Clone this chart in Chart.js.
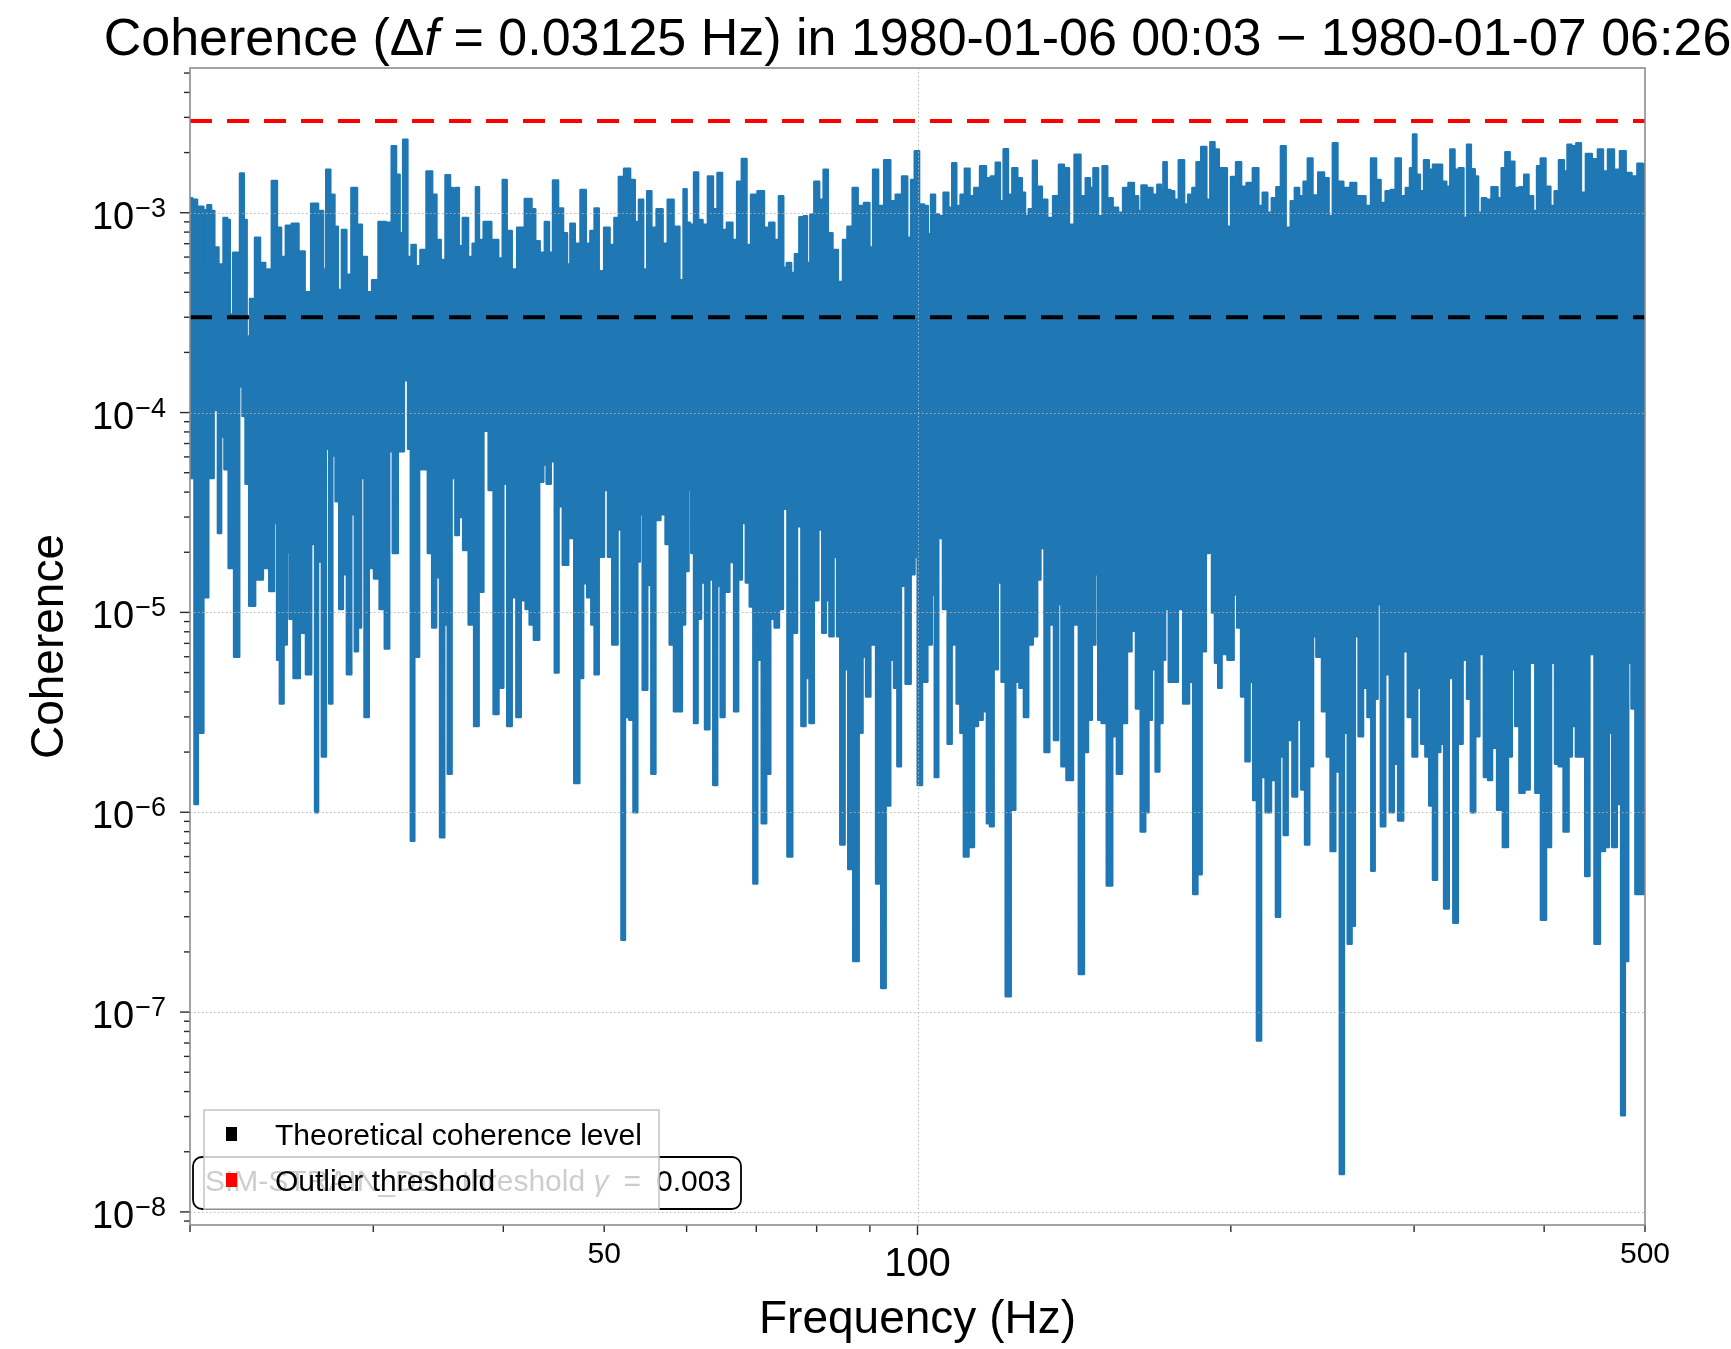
<!DOCTYPE html>
<html lang="en">
<head>
<meta charset="UTF-8">
<title>Coherence</title>
<script src="https://cdn.jsdelivr.net/npm/chart.js"></script>
<style>
  html, body { margin: 0; padding: 0; background: #fff; }
  canvas { display: block; }
</style>
</head>
<body>
<canvas id="coh" width="1731" height="1349"></canvas>
<script>
// upper edge of the coherence trace (per-column maxima)
const upperFreqA = [
  20.0, 20.2, 20.43, 20.58, 20.62, 20.69, 20.88, 21.03, 21.18, 21.42,
  21.66, 21.77, 21.91, 22.1, 22.23, 22.45, 22.6, 22.74, 22.94, 23.25,
  23.45, 23.79, 24.15, 24.33, 24.6, 24.85, 25.25, 25.6, 25.95, 26.35,
  26.75, 26.94, 27.13, 27.43, 27.63, 27.84, 28.14, 28.39, 28.78, 29.1,
  29.4, 29.75, 30.1, 30.6, 31.1, 31.4, 31.7, 31.9, 32.2, 32.5,
  32.8, 33.1, 33.5, 34.0, 34.35, 34.65, 35.0, 35.4, 35.7, 35.85,
  36.1, 36.4, 36.75, 37.25, 37.5, 37.8, 38.0, 38.6, 39.3, 39.8,
  40.1, 40.5, 41.0, 41.5, 42.4, 42.75, 43.1, 43.6, 44.1, 44.4,
  44.9, 45.4, 45.9, 46.2, 46.6, 47.1, 47.8, 48.2, 48.8, 49.1,
  49.7, 50.3, 50.9, 51.4, 51.9, 52.6, 53.3, 53.7, 54.3, 54.7,
  55.3, 55.7, 56.6, 57.2, 57.9, 58.7
];
const upperCohA = [
  1.18e-3, 1.16e-3, 1.07e-3, 1.07e-3, 5.3e-4, 1.03e-3, 1.09e-3, 1.02e-3, 6.7e-4, 5.5e-4,
  9.4e-4, 9.2e-4, 3.1e-4, 6.3e-4, 6.3e-4, 1.57e-3, 9.2e-4, 2.4e-4, 3.7e-4, 7.5e-4,
  5.6e-4, 5.2e-4, 1.44e-3, 8.4e-4, 6.0e-4, 8.6e-4, 8.8e-4, 6.4e-4, 4.0e-4, 1.11e-3,
  1.02e-3, 5.2e-4, 1.64e-3, 1.23e-3, 8.5e-4, 4.1e-4, 8.2e-4, 4.9e-4, 1.33e-3, 8.7e-4,
  6.0e-4, 4.0e-4, 4.6e-4, 9.0e-4, 8.9e-4, 2.15e-3, 1.55e-3, 7.9e-4, 2.32e-3, 6.0e-4,
  6.9e-4, 5.4e-4, 6.5e-4, 1.61e-3, 1.23e-3, 7.3e-4, 5.8e-4, 1.54e-3, 1.33e-3, 5.8e-4,
  1.33e-3, 6.8e-4, 9.4e-4, 6.0e-4, 7.0e-4, 1.34e-3, 7.3e-4, 9.0e-4, 7.3e-4, 5.9e-4,
  1.46e-3, 8.1e-4, 5.2e-4, 8.4e-4, 1.17e-3, 1.04e-3, 7.2e-4, 6.3e-4, 9.0e-4, 6.3e-4,
  1.45e-3, 1.05e-3, 7.9e-4, 5.5e-4, 8.8e-4, 7.0e-4, 1.30e-3, 7.0e-4, 8.1e-4, 1.05e-3,
  5.1e-4, 8.4e-4, 6.9e-4, 9.4e-4, 1.51e-3, 1.66e-3, 1.46e-3, 9.0e-4, 1.16e-3, 5.2e-4,
  1.28e-3, 8.4e-4, 1.04e-3, 7.0e-4, 1.16e-3, 8.5e-4
];
const upperFreqB = [
  59.4, 59.8, 60.2, 60.7, 61.3, 61.8, 62.5, 63.3, 63.9, 64.6,
  65.2, 66.0, 66.8, 67.4, 68.2, 68.8, 69.6, 70.8, 71.6, 72.5,
  73.2, 74.0, 74.6, 75.2, 76.0, 76.5, 77.5, 78.0, 78.6, 79.2,
  80.0, 80.9, 81.6, 82.4, 83.3, 84.4, 85.2, 86.1, 87.2, 88.0,
  89.7, 90.1, 91.2, 92.1, 93.7, 94.6, 96.0, 97.3, 98.2, 99.0,
  99.8, 100.9, 102.0, 102.6, 103.5, 104.4, 105.4, 106.5, 107.6, 108.4,
  109.5, 110.5, 111.6, 112.8, 114.0, 115.7, 117.0, 118.2, 119.6, 120.4,
  121.6, 122.7, 124.0, 125.4, 126.5, 127.2, 128.6, 129.6, 130.8, 132.5,
  134.0, 136.0, 137.5, 139.0, 140.6, 142.5, 144.3, 145.9, 146.9, 148.3,
  149.9, 151.3, 153.0, 155.0, 156.7, 158.5, 160.5, 162.3, 163.5, 164.8,
  167.2, 169.1
];
const upperCohB = [
  4.6e-4, 1.31e-3, 8.9e-4, 8.7e-4, 1.59e-3, 9.2e-4, 8.7e-4, 1.52e-3, 1.04e-3, 1.58e-3,
  8.2e-4, 8.9e-4, 7.3e-4, 1.43e-3, 1.86e-3, 6.9e-4, 1.23e-3, 1.28e-3, 8.4e-4, 8.9e-4,
  7.3e-4, 1.21e-3, 5.3e-4, 5.6e-4, 5.0e-4, 6.2e-4, 9.5e-4, 9.6e-4, 5.6e-4, 9.8e-4,
  1.43e-3, 1.16e-3, 1.64e-3, 7.9e-4, 6.5e-4, 4.5e-4, 7.3e-4, 8.5e-4, 1.33e-3, 1.08e-3,
  1.12e-3, 6.7e-4, 1.64e-3, 1.08e-3, 1.83e-3, 1.14e-3, 1.23e-3, 1.52e-3, 7.5e-4, 1.46e-3,
  2.03e-3, 1.10e-3, 1.08e-3, 7.8e-4, 1.23e-3, 9.8e-4, 9.6e-4, 1.26e-3, 1.06e-3, 1.77e-3,
  1.08e-3, 1.23e-3, 1.66e-3, 1.21e-3, 1.33e-3, 1.71e-3, 1.49e-3, 1.52e-3, 1.78e-3, 1.14e-3,
  2.08e-3, 1.23e-3, 1.67e-3, 1.49e-3, 1.26e-3, 9.6e-4, 1.04e-3, 1.82e-3, 1.35e-3, 1.16e-3,
  9.4e-4, 1.21e-3, 1.74e-3, 1.67e-3, 8.7e-4, 1.95e-3, 1.21e-3, 1.49e-3, 1.33e-3, 1.67e-3,
  9.6e-4, 1.71e-3, 1.18e-3, 1.06e-3, 1.0e-3, 1.33e-3, 1.41e-3, 1.21e-3, 1.02e-3, 1.37e-3,
  1.33e-3, 1.23e-3
];
const upperFreqC = [
  170.9, 171.7, 172.9, 174.2, 175.8, 177.1, 179.4, 181.3, 182.7, 184.7,
  186.1, 188.6, 190.3, 192.0, 193.8, 195.7, 197.4, 199.1, 201.1, 203.6,
  205.6, 208.6, 211.4, 213.7, 215.6, 218.0, 220.0, 222.4, 224.5, 227.1,
  229.6, 231.3, 233.9, 236.0, 238.3, 240.9, 244.5, 247.1, 249.5, 251.8,
  254.6, 258.4, 262.8, 265.0, 267.9, 270.9, 274.6, 277.0, 280.1, 283.3,
  286.4, 289.6, 292.9, 296.2, 298.4, 300.2, 302.8, 305.0, 308.4, 311.4,
  314.2, 317.6, 320.7, 323.5, 326.6, 329.5, 333.1, 336.1, 338.5, 341.8,
  344.3, 346.9, 350.3, 353.4, 358.7, 362.8, 365.5, 368.8, 372.4, 376.6,
  380.9, 384.7, 388.1, 392.6, 395.0, 399.1, 403.3, 407.8, 411.1, 415.6,
  420.2, 422.3, 427.3, 431.8, 436.0, 441.5, 447.5, 453.6, 457.6, 463.8,
  469.8, 476.4, 481.7, 488.9, 494.5, 500.0
];
const upperCohC = [
  1.38e-3, 1.30e-3, 1.79e-3, 1.30e-3, 1.28e-3, 1.16e-3, 1.83e-3, 1.10e-3, 1.23e-3, 1.33e-3,
  1.79e-3, 2.13e-3, 1.16e-3, 2.25e-3, 2.07e-3, 1.67e-3, 1.67e-3, 8.5e-4, 1.51e-3, 1.79e-3,
  1.35e-3, 1.41e-3, 1.67e-3, 1.08e-3, 1.26e-3, 1.0e-3, 1.18e-3, 1.34e-3, 2.15e-3, 8.4e-4,
  1.14e-3, 1.33e-3, 1.21e-3, 1.43e-3, 1.87e-3, 1.22e-3, 1.59e-3, 1.49e-3, 9.6e-4, 2.23e-3,
  1.43e-3, 1.33e-3, 1.41e-3, 1.21e-3, 1.21e-3, 1.08e-3, 1.87e-3, 1.46e-3, 1.12e-3, 1.28e-3,
  1.30e-3, 1.87e-3, 1.21e-3, 1.33e-3, 1.67e-3, 2.46e-3, 1.55e-3, 1.28e-3, 1.83e-3, 1.64e-3,
  1.74e-3, 1.74e-3, 1.43e-3, 1.35e-3, 2.07e-3, 1.64e-3, 1.67e-3, 9.4e-4, 2.19e-3, 1.65e-3,
  1.52e-3, 1.0e-3, 1.18e-3, 1.16e-3, 1.34e-3, 1.18e-3, 1.67e-3, 2.01e-3, 1.80e-3, 1.33e-3,
  1.34e-3, 1.55e-3, 1.21e-3, 1.02e-3, 1.71e-3, 1.87e-3, 1.35e-3, 1.08e-3, 1.28e-3, 1.83e-3,
  1.61e-3, 2.19e-3, 2.15e-3, 2.23e-3, 1.26e-3, 1.97e-3, 1.85e-3, 2.07e-3, 1.61e-3, 2.07e-3,
  1.64e-3, 2.03e-3, 1.58e-3, 1.52e-3, 1.76e-3, 1.75e-3
];

// lower edge of the trace (per-column minima)
const lowerFreqA = [
  20.0, 20.1, 20.3, 20.4, 20.5, 20.7, 20.95, 21.2, 21.35, 21.5,
  21.67, 21.9, 22.2, 22.4, 22.53, 22.7, 22.9, 23.3, 23.7, 23.97,
  24.2, 24.3, 24.5, 24.7, 24.85, 25.0, 25.3, 25.7, 26.0, 26.3,
  26.45, 26.65, 26.9, 27.13, 27.3, 27.5, 27.7, 27.95, 28.15, 28.45,
  28.7, 28.9, 29.1, 29.3, 29.55, 29.85, 30.25, 30.6, 30.95, 31.2,
  31.45, 31.9, 32.3, 32.5, 32.7, 33.0, 33.4, 33.55, 33.7, 34.0,
  34.35, 34.6, 34.95, 35.25, 35.5, 35.85, 36.1, 36.4, 36.8, 37.3,
  37.7, 38.05, 38.5, 38.95, 39.35, 39.8, 40.2, 40.5, 41.0, 41.35,
  41.8, 42.25, 42.55, 43.05, 43.55, 43.85, 44.2, 44.65, 45.0, 45.4,
  45.85, 46.5, 47.1, 47.55, 47.9, 48.4, 48.8, 49.1, 49.7, 50.25,
  50.6, 51.2, 51.8, 52.1, 52.6, 53.1, 53.6, 54.0, 54.2, 54.7,
  55.3, 55.7, 56.3, 56.95, 57.6, 58.0, 58.7
];
const lowerCohA = [
  9.0e-5, 4.7e-5, 1.1e-6, 2.5e-6, 2.5e-6, 1.19e-5, 4.7e-5, 1.03e-4, 2.5e-5, 7.6e-5,
  5.2e-5, 1.67e-5, 6.0e-6, 1.35e-4, 9.6e-5, 4.4e-5, 1.08e-5, 1.46e-5, 1.67e-5, 1.28e-5,
  2.8e-5, 5.8e-6, 3.5e-6, 6.9e-6, 2.0e-5, 9.3e-6, 4.7e-6, 7.9e-6, 4.9e-6, 2.2e-5,
  1.0e-6, 1.8e-5, 1.9e-6, 6.6e-5, 3.5e-6, 6.1e-5, 3.6e-5, 1.04e-5, 1.55e-5, 4.9e-6,
  3.1e-5, 6.4e-6, 8.4e-6, 4.7e-5, 3.0e-6, 1.67e-5, 1.48e-5, 1.04e-5, 6.6e-6, 6.4e-5,
  1.98e-5, 6.4e-5, 1.45e-4, 6.6e-5, 7.2e-7, 6.0e-6, 5.2e-5, 7.8e-5, 5.2e-5, 1.98e-5,
  8.4e-6, 1.5e-5, 7.5e-7, 8.7e-6, 1.56e-6, 4.7e-5, 2.44e-5, 3.0e-5, 2.05e-5, 8.7e-6,
  2.7e-6, 1.27e-5, 8.1e-5, 4.1e-5, 3.1e-6, 4.2e-6, 4.4e-5, 2.7e-6, 1.19e-5, 3.0e-6,
  1.15e-5, 1.04e-5, 8.7e-6, 7.3e-6, 4.5e-5, 5.5e-5, 4.4e-5, 5.7e-5, 5.0e-6, 3.4e-5,
  1.73e-5, 2.36e-5, 1.4e-6, 4.7e-6, 1.4e-5, 1.19e-5, 8.7e-6, 4.9e-6, 1.9e-5, 4.1e-5,
  1.9e-5, 6.9e-6, 2.6e-5, 2.3e-7, 3.0e-6, 2.9e-6, 1.0e-6, 1.8e-5, 3.1e-5, 4.1e-6,
  1.37e-5, 1.56e-6, 2.9e-5, 3.1e-5, 2.2e-5, 6.9e-6, 3.2e-6
];
const lowerFreqB = [
  59.15, 59.6, 60.0, 60.5, 60.75, 61.25, 61.7, 62.2, 62.8, 63.4,
  63.9, 64.5, 64.9, 65.6, 66.3, 67.0, 67.5, 68.1, 68.7, 69.3,
  69.8, 70.5, 71.2, 71.9, 72.5, 73.3, 73.9, 74.6, 75.4, 76.2,
  77.0, 77.7, 78.4, 79.1, 79.9, 80.7, 81.3, 82.0, 82.6, 83.5,
  83.9, 84.7, 85.5, 86.1, 87.4, 88.2, 88.9, 89.6, 90.6, 91.9,
  92.7, 93.7, 94.6, 95.3, 96.0, 96.8, 98.0, 99.0, 99.7, 100.4,
  101.6, 102.8, 103.6, 104.2, 105.2, 106.4, 107.4, 108.3, 108.7, 109.4,
  110.5, 111.1, 112.8, 113.8, 114.8, 116.2, 117.0, 117.8, 118.9, 120.0,
  120.9, 122.2, 123.6, 124.7, 125.9, 127.2, 128.3, 129.8, 130.8, 131.7,
  133.2, 134.5, 136.0, 137.0, 138.0, 140.1, 142.0, 143.8, 145.2, 146.4,
  147.7, 148.7, 149.6, 151.0, 153.0, 154.7, 156.2, 158.2, 159.7, 161.4,
  162.9, 164.8, 166.2, 167.2, 168.7, 170.0
];
const lowerCohB = [
  3.2e-6, 8.7e-6, 1.61e-5, 4.1e-5, 1.98e-5, 2.8e-6, 9.3e-6, 1.41e-5, 2.6e-6, 1.46e-5,
  1.37e-6, 1.36e-5, 3.0e-6, 1.27e-5, 1.79e-5, 3.2e-6, 1.46e-5, 2.8e-5, 1.41e-5, 1.07e-5,
  4.4e-7, 5.8e-6, 8.8e-7, 1.56e-6, 9.3e-6, 8.4e-6, 1.04e-5, 3.3e-5, 6.0e-7, 7.9e-6,
  2.7e-5, 2.7e-6, 4.7e-6, 2.8e-6, 1.15e-5, 2.6e-5, 7.9e-6, 1.15e-5, 7.6e-6, 1.9e-5,
  7.6e-6, 6.9e-7, 5.2e-6, 5.2e-7, 1.8e-7, 2.5e-6, 6.0e-6, 3.8e-6, 6.9e-6, 4.4e-7,
  1.32e-7, 1.08e-6, 5.8e-6, 4.2e-6, 1.7e-6, 1.36e-5, 4.4e-6, 1.55e-5, 1.9e-5, 1.37e-6,
  4.5e-6, 6.9e-6, 1.23e-5, 1.5e-6, 2.36e-5, 1.04e-5, 2.2e-6, 6.9e-6, 1.07e-5, 3.5e-6,
  2.5e-6, 6.0e-7, 6.7e-7, 2.7e-6, 2.9e-6, 3.2e-6, 8.8e-7, 8.5e-7, 5.2e-6, 1.41e-5,
  4.5e-6, 1.2e-7, 1.03e-6, 4.5e-6, 4.2e-6, 3.0e-6, 6.9e-6, 7.6e-6, 1.46e-5, 2.1e-5,
  2.0e-6, 8.7e-6, 2.3e-6, 1.1e-5, 1.7e-6, 1.45e-6, 8.7e-6, 1.55e-7, 2.0e-6, 2.9e-6,
  6.9e-6, 1.55e-5, 2.9e-6, 2.8e-6, 4.3e-7, 2.4e-6, 1.56e-6, 2.8e-6, 6.4e-6, 8.1e-6,
  3.3e-6, 8.0e-7, 1.0e-6, 2.9e-6, 5.2e-6, 1.6e-6
];
const lowerFreqC = [
  171.5, 172.4, 173.5, 175.2, 177.1, 178.7, 181.3, 183.4, 184.7, 186.8,
  188.2, 190.3, 191.3, 192.4, 193.8, 195.2, 196.7, 200.4, 202.1, 203.6,
  205.6, 207.6, 209.4, 210.9, 212.9, 214.8, 217.2, 220.0, 222.0, 224.0,
  225.7, 227.9, 230.5, 232.7, 234.8, 236.6, 239.2, 240.6, 242.8, 246.6,
  248.0, 250.8, 253.2, 255.9, 257.8, 260.3, 262.2, 264.1, 266.6, 269.3,
  271.9, 273.9, 276.0, 277.4, 280.1, 282.8, 285.8, 287.9, 291.3, 294.4,
  297.3, 300.6, 303.5, 306.1, 309.1, 311.4, 314.2, 317.0, 318.8, 322.4,
  325.4, 329.0, 331.9, 336.1, 338.5, 341.8, 345.1, 348.1, 352.1, 354.7,
  358.2, 362.8, 367.4, 371.0, 373.8, 376.6, 380.9, 385.2, 389.6, 395.0,
  399.4, 403.9, 408.4, 411.1, 415.0, 420.2, 424.2, 426.4, 431.8, 436.0,
  440.2, 444.1, 450.2, 454.9, 460.4, 462.8, 467.3, 472.2, 476.4, 480.0,
  483.5, 487.1, 491.9, 500.0
];
const lowerCohC = [
  2.8e-6, 5.8e-6, 1.04e-5, 4.5e-6, 4.5e-6, 1.04e-5, 3.5e-6, 4.5e-6, 3.9e-7, 4.9e-7,
  6.4e-6, 1.98e-5, 2.3e-5, 1.0e-5, 5.6e-6, 4.2e-6, 6.2e-6, 5.8e-6, 1.23e-5, 8.4e-6,
  3.8e-6, 1.8e-6, 4.5e-6, 1.15e-6, 7.2e-8, 1.5e-6, 1.0e-6, 1.45e-6, 3.0e-7, 1.9e-6,
  7.7e-7, 2.3e-6, 1.2e-6, 2.9e-6, 1.3e-6, 6.9e-7, 1.7e-6, 7.6e-6, 6.0e-6, 3.2e-6,
  1.9e-6, 6.4e-7, 1.6e-6, 1.55e-8, 2.5e-6, 2.2e-7, 2.7e-7, 7.6e-6, 2.4e-6, 4.2e-6,
  3.0e-6, 5.1e-7, 3.7e-6, 1.1e-5, 8.5e-7, 4.9e-6, 1.0e-6, 1.75e-6, 9.1e-7, 6.4e-6,
  3.0e-6, 1.9e-6, 4.2e-6, 2.2e-6, 1.9e-6, 1.08e-6, 4.6e-7, 2.0e-6, 2.2e-6, 3.3e-7,
  4.7e-6, 2.8e-7, 2.2e-6, 5.8e-6, 3.7e-6, 1.0e-6, 2.4e-6, 6.2e-6, 1.5e-6, 1.45e-6,
  2.1e-6, 1.03e-6, 6.7e-7, 1.9e-6, 5.2e-6, 2.7e-6, 1.25e-6, 1.3e-6, 5.6e-6, 1.25e-6,
  2.9e-7, 6.7e-7, 5.6e-6, 1.75e-6, 1.7e-6, 8.0e-7, 1.9e-6, 2.7e-6, 1.9e-6, 1.9e-6,
  4.8e-7, 6.2e-6, 2.2e-7, 6.4e-7, 6.7e-7, 2.5e-6, 6.7e-7, 1.1e-6, 3.05e-8, 1.8e-7,
  5.6e-6, 3.3e-6, 3.9e-7, 3.9e-7
];

const freqRange = [20, 500];
const cohRange = [8.6e-9, 5.3e-3];
const theoreticalLevel = 3.0e-4;
const outlierThreshold = 2.88e-3;

const xMinorTicks = [20, 30, 40, 50, 60, 70, 80, 90, 200, 300, 400, 500];
const xMajorTicks = [100];
const xTickLabels = [50, 100, 500];
const yTickExponents = [-8, -7, -6, -5, -4, -3];

const legendLabels = ['Theoretical coherence level', 'Outlier threshold'];
const legendColors = ['#000000', '#ff0000'];
const channelNote = 'SIM-STRAIN_DBL threshold ';
const gammaValue = '0.003';

const BLUE = '#1f77b4';
const FONT = '"Liberation Sans", Arial, Helvetica, sans-serif';
const font = (size, style) => (style ? style + ' ' : '') + size + 'px ' + FONT;

const toPoints = (fs, vs) => fs.map((f, i) => ({ x: f, y: vs[i] }));
const upperPts = toPoints(upperFreqA.concat(upperFreqB, upperFreqC), upperCohA.concat(upperCohB, upperCohC));
const lowerPts = toPoints(lowerFreqA.concat(lowerFreqB, lowerFreqC), lowerCohA.concat(lowerCohB, lowerCohC));

function roundRect(ctx, x, y, w, h, r) {
  ctx.beginPath();
  ctx.moveTo(x + r, y);
  ctx.lineTo(x + w - r, y);
  ctx.arcTo(x + w, y, x + w, y + r, r);
  ctx.lineTo(x + w, y + h - r);
  ctx.arcTo(x + w, y + h, x + w - r, y + h, r);
  ctx.lineTo(x + r, y + h);
  ctx.arcTo(x, y + h, x, y + h - r, r);
  ctx.lineTo(x, y + r);
  ctx.arcTo(x, y, x + r, y, r);
  ctx.closePath();
}

const decor = {
  id: 'decor',
  afterDatasetsDraw(chart) {
    const { ctx, chartArea: a, scales: { x, y } } = chart;
    ctx.save();
    ctx.strokeStyle = 'rgba(180,180,180,0.95)';
    ctx.lineWidth = 1;
    ctx.setLineDash([1.5, 2.5]);
    yTickExponents.forEach(e => {
      const py = Math.round(y.getPixelForValue(Math.pow(10, e))) + 0.5;
      ctx.beginPath(); ctx.moveTo(a.left, py); ctx.lineTo(a.right, py); ctx.stroke();
    });
    xMajorTicks.forEach(f => {
      const px = Math.round(x.getPixelForValue(f)) + 0.5;
      ctx.beginPath(); ctx.moveTo(px, a.top); ctx.lineTo(px, a.bottom); ctx.stroke();
    });
    ctx.restore();
  },
  afterDraw(chart) {
    const { ctx, chartArea: a, scales: { x, y } } = chart;
    const line = (x0, y0, x1, y1) => { ctx.beginPath(); ctx.moveTo(x0, y0); ctx.lineTo(x1, y1); ctx.stroke(); };
    ctx.save();

    // tick marks
    ctx.strokeStyle = '#2a2a2a';
    ctx.lineWidth = 1.4;
    for (let e = -9; e <= -2; e++) {
      for (let m = 1; m < 10; m++) {
        const v = m * Math.pow(10, e);
        if (v < cohRange[0] || v > cohRange[1]) continue;
        const py = y.getPixelForValue(v);
        line(a.left - (m === 1 ? 10 : 6), py, a.left, py);
      }
    }
    xMinorTicks.forEach(f => { const px = x.getPixelForValue(f); line(px, a.bottom, px, a.bottom + 7); });
    xMajorTicks.forEach(f => { const px = x.getPixelForValue(f); line(px, a.bottom, px, a.bottom + 10); });

    // frame
    ctx.strokeStyle = '#8c8c8c';
    ctx.lineWidth = 1.6;
    ctx.strokeRect(a.left, a.top, a.right - a.left, a.bottom - a.top);

    // y tick labels 10^-n
    ctx.fillStyle = '#000';
    ctx.textBaseline = 'alphabetic';
    ctx.textAlign = 'right';
    const labelRight = a.left - 24;
    yTickExponents.forEach(e => {
      const py = y.getPixelForValue(Math.pow(10, e));
      const sup = '\u2212' + Math.abs(e);
      ctx.font = font(27);
      const w = ctx.measureText(sup).width;
      ctx.fillText(sup, labelRight, py + 4);
      ctx.font = font(38);
      ctx.fillText('10', labelRight - w - 1, py + 16);
    });

    // x tick labels
    ctx.textAlign = 'center';
    xTickLabels.forEach(f => {
      const px = x.getPixelForValue(f);
      if (xMajorTicks.includes(f)) {
        ctx.font = font(40);
        ctx.fillText(String(f), px, a.bottom + 51);
      } else {
        ctx.font = font(30);
        ctx.fillText(String(f), px, a.bottom + 38);
      }
    });

    // axis titles
    ctx.font = font(46);
    ctx.fillText('Frequency (Hz)', (a.left + a.right) / 2, a.bottom + 108);
    ctx.save();
    ctx.translate(63, (a.top + a.bottom) / 2);
    ctx.rotate(-Math.PI / 2);
    ctx.fillText('Coherence', 0, 0);
    ctx.restore();

    // title with math delta-f
    ctx.textAlign = 'left';
    const lead = 'Coherence (';
    const delta = '\u0394';
    const fItal = 'f';
    const tail = ' = 0.03125 Hz) in 1980-01-06 00:03 \u2212 1980-01-07 06:26';
    ctx.font = font(52);
    const wLead = ctx.measureText(lead).width;
    const wDelta = ctx.measureText(delta).width;
    const wTail = ctx.measureText(tail).width;
    ctx.font = font(52, 'italic');
    const wF = ctx.measureText(fItal).width;
    let tx = (a.left + a.right) / 2 - (wLead + wDelta + wF + wTail) / 2;
    const ty = 55;
    ctx.font = font(52);
    ctx.fillText(lead, tx, ty); tx += wLead;
    ctx.fillText(delta, tx, ty); tx += wDelta;
    ctx.font = font(52, 'italic');
    ctx.fillText(fItal, tx, ty); tx += wF;
    ctx.font = font(52);
    ctx.fillText(tail, tx, ty);

    // threshold note box (sits underneath the legend)
    roundRect(ctx, 193, 1157, 548, 52, 9);
    ctx.fillStyle = '#fff';
    ctx.fill();
    ctx.strokeStyle = '#000';
    ctx.lineWidth = 1.8;
    ctx.stroke();
    ctx.fillStyle = '#000';
    ctx.font = font(30);
    let nx = 205;
    const ny = 1191;
    ctx.fillText(channelNote, nx, ny); nx += ctx.measureText(channelNote).width;
    ctx.font = font(30, 'italic');
    ctx.fillText('\u03b3', nx, ny); nx += ctx.measureText('\u03b3').width;
    ctx.font = font(30);
    const eq = '\u2002=\u2002' + gammaValue;
    ctx.fillText(eq, nx, ny);

    // legend
    ctx.fillStyle = 'rgba(255,255,255,0.8)';
    ctx.fillRect(204, 1110, 455, 99);
    ctx.strokeStyle = '#c4c4c4';
    ctx.lineWidth = 1.5;
    ctx.strokeRect(204, 1110, 455, 99);
    legendLabels.forEach((lab, i) => {
      const cy = 1134 + i * 46;
      ctx.fillStyle = legendColors[i];
      ctx.fillRect(226, cy - 7, 11, 14);
      ctx.fillStyle = '#000';
      ctx.font = font(30);
      ctx.fillText(lab, 275, cy + 11);
    });

    ctx.restore();
  }
};

new Chart(document.getElementById('coh'), {
  type: 'line',
  data: {
    datasets: [
      {
        label: legendLabels[0],
        data: freqRange.map(f => ({ x: f, y: theoreticalLevel })),
        borderColor: legendColors[0],
        borderWidth: 4,
        borderDash: [22, 15],
        pointRadius: 0,
        fill: false,
        order: 0
      },
      {
        label: legendLabels[1],
        data: freqRange.map(f => ({ x: f, y: outlierThreshold })),
        borderColor: legendColors[1],
        borderWidth: 4,
        borderDash: [22, 15],
        pointRadius: 0,
        fill: false,
        order: 0
      },
      {
        label: 'coherence max',
        data: upperPts,
        borderColor: BLUE,
        backgroundColor: BLUE,
        borderWidth: 2.5,
        stepped: 'middle',
        pointRadius: 0,
        fill: '+1',
        order: 1
      },
      {
        label: 'coherence min',
        data: lowerPts,
        borderColor: BLUE,
        borderWidth: 2.5,
        stepped: 'middle',
        pointRadius: 0,
        fill: false,
        order: 1
      }
    ]
  },
  options: {
    responsive: false,
    animation: false,
    devicePixelRatio: 1,
    events: [],
    layout: { padding: { left: 190, right: 86, top: 68, bottom: 124 } },
    elements: { line: { tension: 0, borderJoinStyle: 'round' } },
    scales: {
      x: { type: 'logarithmic', min: freqRange[0], max: freqRange[1], display: false },
      y: { type: 'logarithmic', min: cohRange[0], max: cohRange[1], display: false }
    },
    plugins: {
      legend: { display: false },
      tooltip: { enabled: false },
      title: { display: false }
    }
  },
  plugins: [decor]
});
</script>
</body>
</html>
